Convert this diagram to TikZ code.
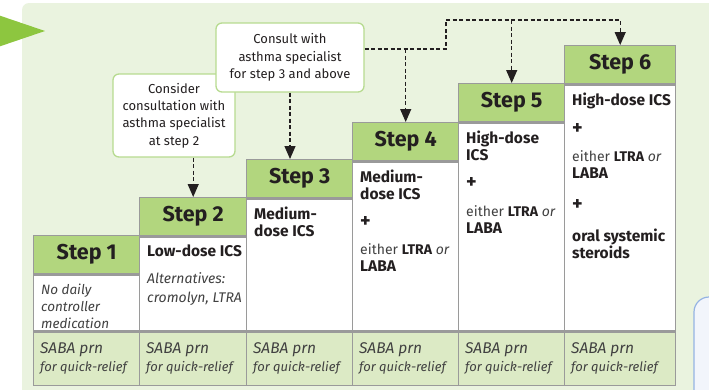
\documentclass[tikz,border=0pt]{standalone}
\usepackage{fontspec}
\setmainfont{Fira Sans}
\usetikzlibrary{arrows.meta, positioning}

\definecolor{bgfill}{HTML}{EAF3DF}
\definecolor{headgreen}{HTML}{B2D67E}
\definecolor{sabagreen}{HTML}{DCEAC5}
\definecolor{gridgrey}{HTML}{9A9A9A}
\definecolor{calloutline}{HTML}{B7DB90}
\definecolor{arrowgreen}{HTML}{8DC63F}
\definecolor{bluefill}{HTML}{F2F5FB}
\definecolor{blueline}{HTML}{95B3E3}
\definecolor{inkdark}{HTML}{231F20}
\definecolor{inkgrey}{HTML}{414141}

\tikzset{
  stephead/.style={draw=gridgrey, line width=1.4pt, fill=headgreen, inner sep=0pt,
    minimum height=38, font=\bfseries\fontsize{21.5}{24}\selectfont, text=inkdark},
  stepbody/.style={draw=gridgrey, line width=1.4pt, fill=white, inner sep=0pt},
  sababox/.style={draw=gridgrey, line width=1.4pt, fill=sabagreen, inner sep=0pt, minimum height=53},
  sabatext/.style={inner sep=0pt, align=left, text=inkgrey, anchor=north west,
    font=\itshape\fontsize{13}{18}\selectfont},
  bodytext/.style={inner sep=0pt, align=left, text=inkdark, anchor=north west,
    font=\fontsize{15.5}{17}\selectfont},
  callout/.style={draw=calloutline, line width=1.3pt, fill=white, rounded corners=6pt,
    align=center, inner sep=0pt, text=inkdark, font=\fontsize{13}{17.3}\selectfont},
  dashline/.style={dash pattern=on 4pt off 2.5pt, line width=1.2pt, draw=inkdark,
    -{Triangle[width=11pt,length=13pt]}},
}

\newcommand{\eitherline}{{\fontsize{14}{17}\selectfont\color{inkgrey}either \textbf{\color{inkdark}LTRA} \itshape or}\\\textbf{LABA}}
\newcommand{\plussign}{{\fontsize{20}{17}\selectfont\textbf{+}}}

\begin{document}
\begin{tikzpicture}[x=1pt, y=-1pt]
  \useasboundingbox (0,0) rectangle (709,389);
  % backdrop
  \begin{scope}
    \clip (0,0) rectangle (709,389);
    \fill[bgfill, rounded corners=7pt] (22,3) rectangle (740,420);
    \fill[arrowgreen] (-5,14) -- (45,31) -- (-5,48) -- cycle;
    \draw[blueline, fill=bluefill, line width=1.2pt, rounded corners=15pt] (694,297) rectangle (740,420);
  \end{scope}

  % steps
  \foreach \n/\x/\w/\t in {1/33/106/235, 2/139/107/197, 3/246/106/159,
                           4/352/106/122, 5/458/106/83, 6/564/111/45} {
    \node[stephead, minimum width=\w, anchor=north west] (h\n) at (\x,\t) {Step \n};
    \node[stepbody, minimum width=\w, minimum height={329-\t-38}, anchor=north west] (b\n) at (h\n.south west) {};
    \node[sababox, minimum width=\w, anchor=north west] (s\n) at (b\n.south west) {};
    \node[sabatext] (st\n) at ([xshift=7, yshift=-11]s\n.north west)
      {{\fontsize{15.5}{18}\selectfont SABA prn}\\for quick-relief};
  }

  % contents
  \node[bodytext, text=inkgrey, font=\itshape\fontsize{13.5}{17}\selectfont] (t1)
    at ([xshift=8, yshift=-9]h1.south west) {No daily\\controller\\medication};
  \node[bodytext] (t2) at ([xshift=8, yshift=-8]h2.south west)
    {\textbf{Low-dose ICS}\\[10pt]{\fontsize{14}{17}\selectfont\color{inkgrey}\itshape Alternatives:}\\[2pt]{\fontsize{14}{17}\selectfont\color{inkgrey}\itshape cromolyn, LTRA}};
  \node[bodytext] (t3) at ([xshift=8, yshift=-8]h3.south west)
    {\textbf{Medium-}\\\textbf{dose ICS}};
  \node[bodytext] (t4) at ([xshift=8, yshift=-8]h4.south west)
    {\textbf{Medium-}\\\textbf{dose ICS}\\[11pt]\plussign\\[10pt]\eitherline};
  \node[bodytext] (t5) at ([xshift=8, yshift=-8]h5.south west)
    {\textbf{High-dose}\\\textbf{ICS}\\[11pt]\plussign\\[11pt]\eitherline};
  \node[bodytext] (t6) at ([xshift=8, yshift=-8]h6.south west)
    {\textbf{High-dose ICS}\\[12pt]\plussign\\[10pt]\eitherline\\[15pt]\plussign\\[14pt]\textbf{oral systemic}\\\textbf{steroids}};

  % specialist notes
  \node[callout, minimum width=122, minimum height=83] (consA) at (174,115.5)
    {Consider\\consultation with\\asthma specialist\\at step 2};
  \node[callout, minimum width=148, minimum height=69] (consB) at (290,57.5)
    {Consult with\\asthma specialist\\for step 3 and above};

  \coordinate (knee) at (446,49);
  \coordinate (ridge) at (446,20);
  \draw[dashline] (consA.south -| h2.north) -- (h2.north);
  \draw[dashline] (consB.south) -- (consB.south |- h3.north);
  \draw[dashline] (consB.east |- knee) -- (knee) -- (ridge) -| (h6.north);
  \draw[dashline] (h4.north |- knee) -- (h4.north);
  \draw[dashline] (h5.north |- ridge) -- (h5.north);
\end{tikzpicture}
\end{document}
